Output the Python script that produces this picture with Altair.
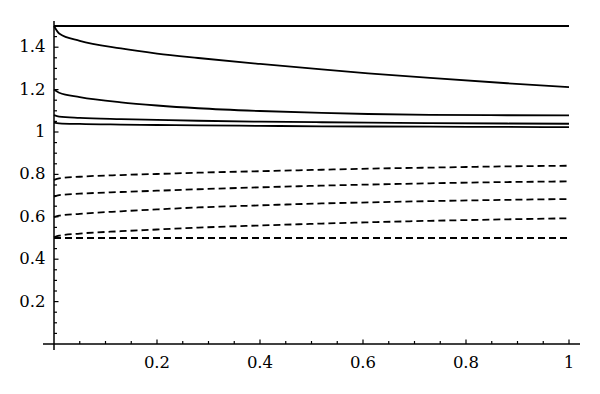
import altair as alt
import pandas as pd

# x positions where curves were read
xs = [0.0, 0.01, 0.05, 0.13, 0.2, 0.28, 0.4, 0.52, 0.61, 0.73, 0.88, 1.0]

# solid curves
s1 = [1.5, 1.5, 1.5, 1.5, 1.5, 1.5, 1.5, 1.5, 1.5, 1.5, 1.5, 1.5]
s2 = [1.5, 1.465, 1.430, 1.394, 1.370, 1.349, 1.321, 1.295, 1.277, 1.255, 1.230, 1.212]
s3 = [1.2, 1.185, 1.165, 1.140, 1.125, 1.112, 1.099, 1.090, 1.085, 1.081, 1.079, 1.078]
s4 = [1.08, 1.073, 1.067, 1.061, 1.057, 1.053, 1.049, 1.046, 1.044, 1.042, 1.040, 1.039]
s5 = [1.044, 1.041, 1.038, 1.035, 1.033, 1.031, 1.029, 1.027, 1.026, 1.025, 1.024, 1.023]

# dashed curves
d1 = [0.774, 0.781, 0.789, 0.797, 0.802, 0.808, 0.815, 0.822, 0.827, 0.832, 0.838, 0.841]
d2 = [0.695, 0.702, 0.709, 0.717, 0.723, 0.730, 0.739, 0.747, 0.752, 0.758, 0.764, 0.767]
d3 = [0.598, 0.605, 0.614, 0.626, 0.635, 0.644, 0.654, 0.663, 0.668, 0.674, 0.680, 0.684]
d4 = [0.503, 0.511, 0.521, 0.532, 0.540, 0.549, 0.559, 0.568, 0.574, 0.581, 0.588, 0.593]
d5 = [0.5, 0.5, 0.5, 0.5, 0.5, 0.5, 0.5, 0.5, 0.5, 0.5, 0.5, 0.5]

# axis ticks and labels
x_major = [0.2, 0.4, 0.6, 0.8, 1.0]
x_labels = ["0.2", "0.4", "0.6", "0.8", "1"]
x_minor = [0.05, 0.1, 0.15, 0.25, 0.3, 0.35, 0.45, 0.5, 0.55, 0.65, 0.7, 0.75, 0.85, 0.9, 0.95]
y_major = [0.2, 0.4, 0.6, 0.8, 1.0, 1.2, 1.4]
y_labels = ["0.2", "0.4", "0.6", "0.8", "1", "1.2", "1.4"]
y_minor = [0.05, 0.1, 0.15, 0.25, 0.3, 0.35, 0.45, 0.5, 0.55, 0.65, 0.7, 0.75,
           0.85, 0.9, 0.95, 1.05, 1.1, 1.15, 1.25, 1.3, 1.35, 1.45, 1.5]
x_axis_ext = [-0.0214, 1.0214]
y_axis_ext = [-0.0283, 1.5236]

W, H = 580, 372
PX_X = 515.0   # pixels per x unit
PX_Y = 212.0   # pixels per y unit
x0_px, y0_px = 46.0, 336.0
x_dom = [-x0_px / PX_X, (W - x0_px) / PX_X]
y_dom = [-(H - y0_px) / PX_Y, y0_px / PX_Y]

xsc = alt.Scale(domain=x_dom, nice=False, zero=False)
ysc = alt.Scale(domain=y_dom, nice=False, zero=False)

def long(series, names):
    rows = []
    for n, s in zip(names, series):
        for x, y in zip(xs, s):
            rows.append({"x": x, "y": y, "s": n})
    return pd.DataFrame(rows)

solid = long([s1, s2, s3, s4, s5], ["s1", "s2", "s3", "s4", "s5"])
dashed = long([d1, d2, d3, d4, d5], ["d1", "d2", "d3", "d4", "d5"])

X = alt.X("x:Q", scale=xsc, axis=None)
Y = alt.Y("y:Q", scale=ysc, axis=None)

solid_l = alt.Chart(solid).mark_line(color="black", strokeWidth=1.8, interpolate="monotone").encode(
    x=X, y=Y, detail="s:N")
dashed_l = alt.Chart(dashed).mark_line(color="black", strokeWidth=1.8, strokeDash=[7, 4],
                                       interpolate="monotone").encode(x=X, y=Y, detail="s:N")

# axis lines
xaxis = alt.Chart(pd.DataFrame({"a": [x_axis_ext[0]], "b": [x_axis_ext[1]], "y": [0.0]})).mark_rule(
    color="black", strokeWidth=1.5).encode(x=alt.X("a:Q", scale=xsc, axis=None), x2="b:Q",
                                           y=alt.Y("y:Q", scale=ysc, axis=None))
yaxis = alt.Chart(pd.DataFrame({"a": [y_axis_ext[0]], "b": [y_axis_ext[1]], "x": [0.0]})).mark_rule(
    color="black", strokeWidth=1.5).encode(y=alt.Y("a:Q", scale=ysc, axis=None), y2="b:Q",
                                           x=alt.X("x:Q", scale=xsc, axis=None))

def xticks(vals, length_px):
    df = pd.DataFrame({"x": vals, "y0": 0.0, "y1": length_px / PX_Y})
    return alt.Chart(df).mark_rule(color="black", strokeWidth=1.2).encode(
        x=X, y=alt.Y("y0:Q", scale=ysc, axis=None), y2="y1:Q")

def yticks(vals, length_px):
    df = pd.DataFrame({"y": vals, "x0": 0.0, "x1": length_px / PX_X})
    return alt.Chart(df).mark_rule(color="black", strokeWidth=1.2).encode(
        y=Y, x=alt.X("x0:Q", scale=xsc, axis=None), x2="x1:Q")

xlab = alt.Chart(pd.DataFrame({"x": x_major, "t": x_labels, "y": 0.0})).mark_text(
    font="DejaVu Serif", fontSize=16.5, color="black", baseline="middle", align="center", dy=18.5
).encode(x=X, y=Y, text="t:N")
ylab = alt.Chart(pd.DataFrame({"y": y_major, "t": y_labels, "x": 0.0})).mark_text(
    font="DejaVu Serif", fontSize=16.5, color="black", baseline="middle", align="right", dx=-8.5
).encode(x=X, y=Y, text="t:N")

chart = alt.layer(
    solid_l, dashed_l, xaxis, yaxis,
    xticks(x_major, 4.5), xticks(x_minor, 3),
    yticks(y_major, 4.5), yticks(y_minor, 3),
    xlab, ylab,
).properties(
    width=W, height=H, autosize=alt.AutoSizeParams(type="none"), padding=0
).configure_view(strokeWidth=0, stroke="transparent")

chart.save("out.html", embed_options={"renderer": "svg", "actions": False})
